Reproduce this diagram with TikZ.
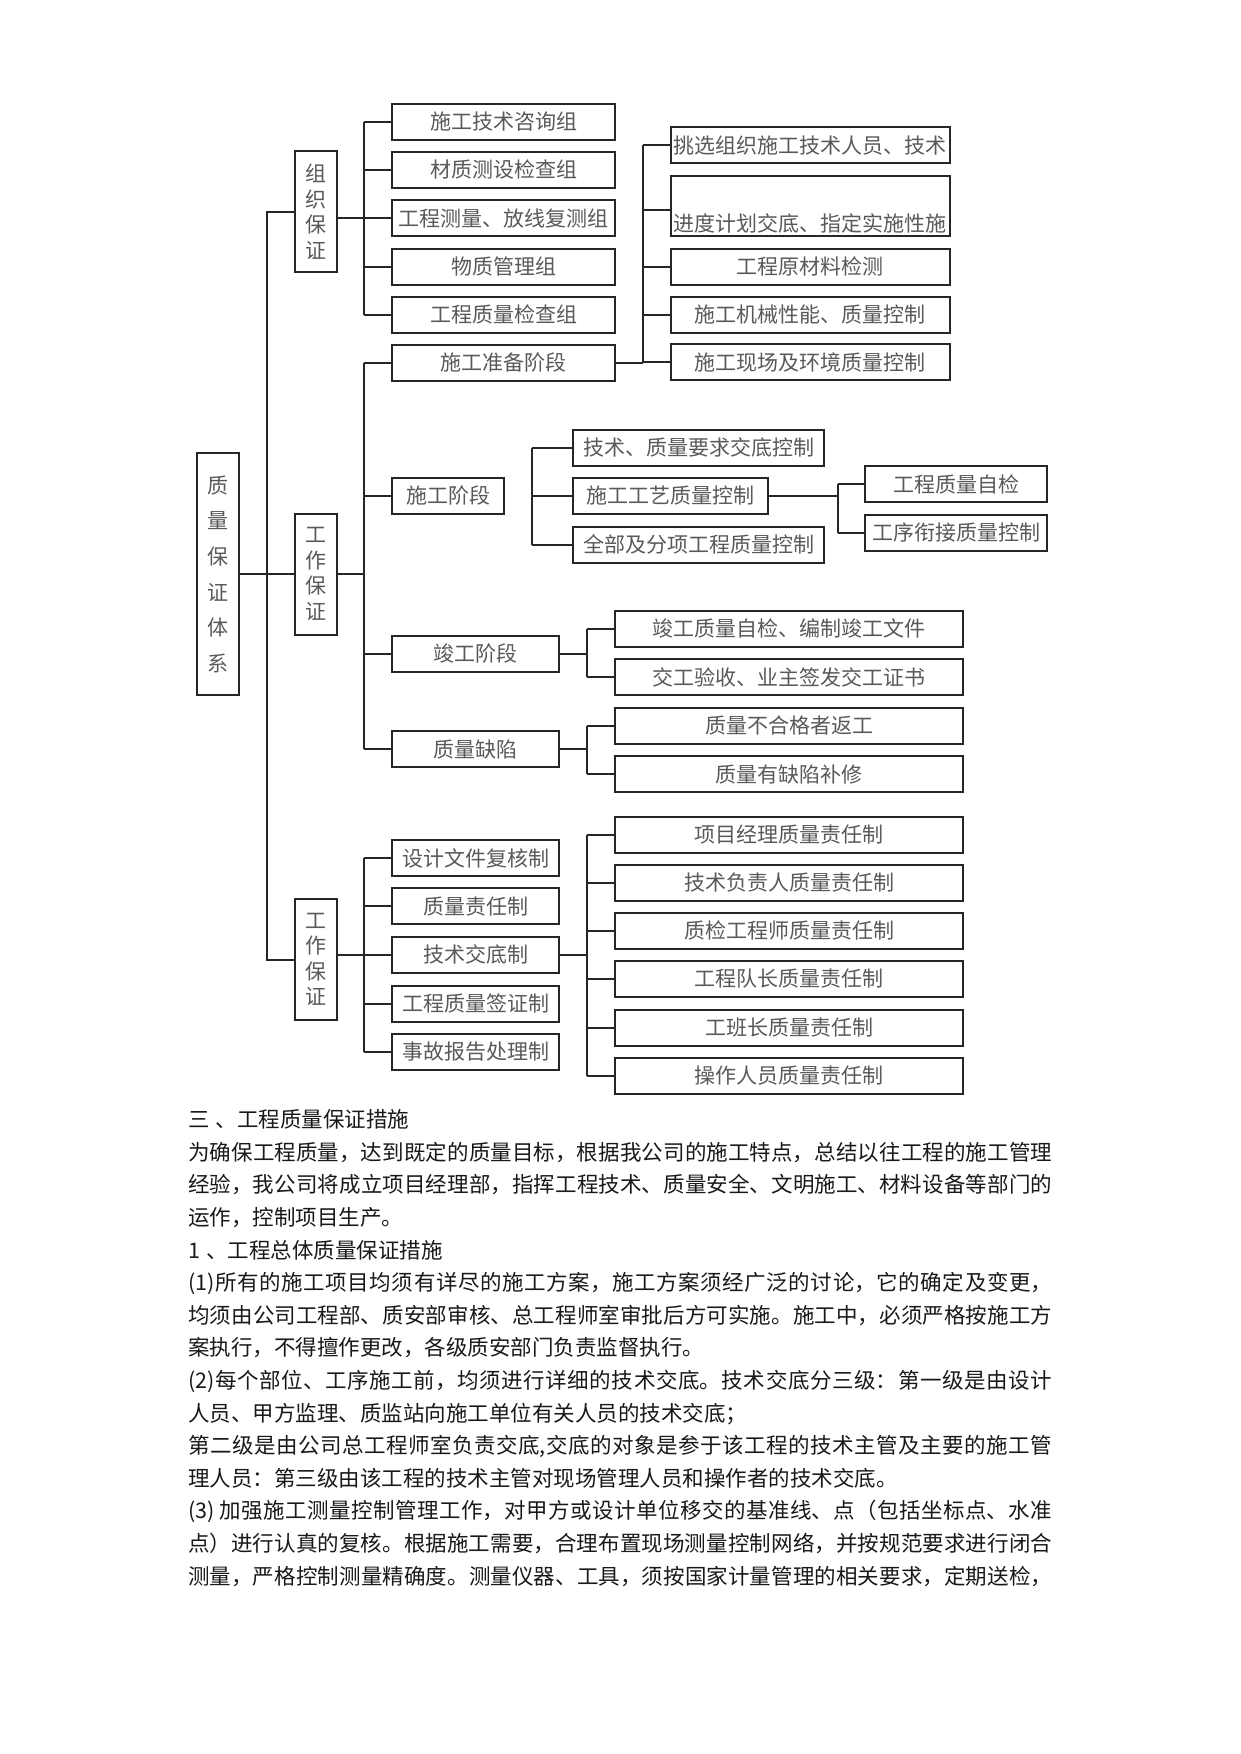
\documentclass[tikz,border=0pt]{standalone}
\usepackage{fontspec}
\newfontfamily\cjk{Noto Sans CJK SC}
\XeTeXlinebreaklocale "zh"
\XeTeXlinebreakskip=0pt plus 3pt
\tikzset{
  ln/.style={draw=black!85, line width=2pt},
  bx/.style={ln, inner sep=0pt, minimum height=36pt, text=black!65, font=\cjk\fontsize{21pt}{21pt}\selectfont},
  vbx/.style={bx, minimum width=41.7pt, minimum height=121pt, align=center, font=\cjk\fontsize{21pt}{25.5pt}\selectfont},
  colA/.style={bx, minimum width=223pt},
  colB/.style={bx, minimum width=279.3pt},
  colC/.style={bx, minimum width=167pt},
  colD/.style={bx, minimum width=251.7pt},
  colE/.style={bx, minimum width=181.5pt},
  colF/.style={bx, minimum width=348.3pt},
  tx/.style={anchor=west, inner sep=0pt, text height=0.85em, text depth=0.12em, text=black!90, font=\cjk\fontsize{21.5pt}{21.5pt}\selectfont}
}
\newcommand{\fl}[1]{\parbox[b]{864pt}{\parfillskip=0pt\relax #1}}
\begin{document}
\begin{tikzpicture}[x=1pt,y=-1pt]
\fill[white] (0,0) rectangle (1241,1754);
\useasboundingbox (0,0) rectangle (1241,1754);

% bus x positions
\coordinate (sp) at (267.3,0);
\coordinate (bA) at (364.3,0);
\coordinate (bB) at (643.3,0);
\coordinate (bD) at (531.5,0);
\coordinate (bE) at (837.5,0);
\coordinate (bF) at (587.2,0);

% root and second level
\node[bx, minimum width=42pt, minimum height=241.7pt, align=center, font=\cjk\fontsize{21pt}{35.7pt}\selectfont] (root) at (218.3,574.2) {质\\量\\保\\证\\体\\系};
\node[vbx] (v1) at (315.9,211.7) {组\\织\\保\\证};
\node[vbx] (v2) at (315.9,574) {工\\作\\保\\证};
\node[vbx] (v3) at (315.9,959.5) {工\\作\\保\\证};

% column A
\node[colA] (a1) at (503.8,122) {施工技术咨询组};
\node[colA] (a2) at (503.8,169.9) {材质测设检查组};
\node[colA] (a3) at (503.8,218.4) {工程测量、放线复测组};
\node[colA] (a4) at (503.8,266.7) {物质管理组};
\node[colA] (a5) at (503.8,314.5) {工程质量检查组};
\node[colA] (a6) at (503.8,362.9) {施工准备阶段};

% column B
\node[colB] (b1) at (810.35,145.3) {挑选组织施工技术人员、技术};
\node[colB, minimum height=60pt, label={[bx, draw=none, anchor=center, yshift=14pt]south:进度计划交底、指定实施性施}] (b2) at (810.35,206) {};
\node[colB] (b3) at (810.35,266.7) {工程原材料检测};
\node[colB] (b4) at (810.35,314.5) {施工机械性能、质量控制};
\node[colB] (b5) at (810.35,362.2) {施工现场及环境质量控制};

% stages
\node[bx, minimum width=111.7pt] (c1) at (448.2,495.9) {施工阶段};
\node[colC] (c2) at (475.8,653.7) {竣工阶段};
\node[colC] (c3) at (475.8,749.2) {质量缺陷};

% construction stage children
\node[colD] (d1) at (698.55,447.9) {技术、质量要求交底控制};
\node[bx, minimum width=195.6pt] (d2) at (670.5,496) {施工工艺质量控制};
\node[colD] (d3) at (698.55,544.7) {全部及分项工程质量控制};
\node[colE] (e1) at (956.15,484.2) {工程质量自检};
\node[colE] (e2) at (956.15,532.9) {工序衔接质量控制};

% completion / defects children
\node[colF] (f1) at (789.15,628.9) {竣工质量自检、编制竣工文件};
\node[colF] (f2) at (789.15,677) {交工验收、业主签发交工证书};
\node[colF] (f3) at (789.15,725.7) {质量不合格者返工};
\node[colF] (f4) at (789.15,774.2) {质量有缺陷补修};

% bottom group
\node[colC] (h1) at (475.8,858.2) {设计文件复核制};
\node[colC] (h2) at (475.8,906.2) {质量责任制};
\node[colC] (h3) at (475.8,954.7) {技术交底制};
\node[colC] (h4) at (475.8,1003.7) {工程质量签证制};
\node[colC] (h5) at (475.8,1051.7) {事故报告处理制};

\node[colF] (g1) at (789.15,834.8) {项目经理质量责任制};
\node[colF] (g2) at (789.15,882.5) {技术负责人质量责任制};
\node[colF] (g3) at (789.15,930.5) {质检工程师质量责任制};
\node[colF] (g4) at (789.15,978.9) {工程队长质量责任制};
\node[colF] (g5) at (789.15,1027.9) {工班长质量责任制};
\node[colF] (g6) at (789.15,1076) {操作人员质量责任制};

% ---- connectors ----
% spine
\draw[ln] (v1.west) -- (v1.west -| sp) -- (v3.west -| sp) -- (v3.west);
\draw[ln] (root.east) -- (root.east -| v2.west);

% group A
\draw[ln] (a1.west -| bA) -- (a5.west -| bA);
\foreach \n in {a1,a2,a3,a4,a5} \draw[ln] (\n.west -| bA) -- (\n.west);
\draw[ln] (v1.east |- a3.west) -- (a3.west);

% stages bus
\draw[ln] (a6.west -| bA) -- (c3.west -| bA);
\foreach \n in {a6,c1,c2,c3} \draw[ln] (\n.west -| bA) -- (\n.west);
\draw[ln] (v2.east) -- (v2.east -| bA);

% preparation stage children
\draw[ln] (a6.east) -- (a6.east -| bB);
\draw[ln] (b1.west -| bB) -- (b5.west -| bB);
\foreach \n in {b1,b3,b4,b5} \draw[ln] (\n.west -| bB) -- (\n.west);
\draw[ln] ([yshift=-4pt]b2.west -| bB) -- ([yshift=-4pt]b2.west);

% construction stage children (bus not joined to the stage box)
\draw[ln] (d1.west -| bD) -- (d3.west -| bD);
\foreach \n in {d1,d2,d3} \draw[ln] (\n.west -| bD) -- (\n.west);
\draw[ln] (d2.east) -- (d2.east -| bE);
\draw[ln] (e1.west -| bE) -- (e2.west -| bE);
\foreach \n in {e1,e2} \draw[ln] (\n.west -| bE) -- (\n.west);

% completion and defects
\draw[ln] (c2.east) -- (c2.east -| bF);
\draw[ln] (f1.west -| bF) -- (f2.west -| bF);
\foreach \n in {f1,f2} \draw[ln] (\n.west -| bF) -- (\n.west);
\draw[ln] (c3.east) -- (c3.east -| bF);
\draw[ln] (f3.west -| bF) -- (f4.west -| bF);
\foreach \n in {f3,f4} \draw[ln] (\n.west -| bF) -- (\n.west);

% bottom group
\draw[ln] (h1.west -| bA) -- (h5.west -| bA);
\foreach \n in {h1,h2,h3,h4,h5} \draw[ln] (\n.west -| bA) -- (\n.west);
\draw[ln] (v3.east |- h3.west) -- (h3.west);
\draw[ln] (h3.east) -- (h3.east -| bF);
\draw[ln] (g1.west -| bF) -- (g6.west -| bF);
\foreach \n in {g1,g2,g3,g4,g5,g6} \draw[ln] (\n.west -| bF) -- (\n.west);

% ---- body text ----
\node[tx] (t0) at (188,1124) {三\hspace{6pt}、工程质量保证措施};
\node[tx] (t1) at (188,1156.6) {\fl{为确保工程质量，达到既定的质量目标，根据我公司的施工特点，总结以往工程的施工管理}};
\node[tx] (t2) at (188,1189.2) {\fl{经验，我公司将成立项目经理部，指挥工程技术、质量安全、文明施工、材料设备等部门的}};
\node[tx] (t3) at (188,1221.8) {运作，控制项目生产。};
\node[tx] (t4) at (188,1254.4) {1\hspace{6pt}、工程总体质量保证措施};
\node[tx] (t5) at (188,1287) {\fl{(1)所有的施工项目均须有详尽的施工方案，施工方案须经广泛的讨论，它的确定及变更，}};
\node[tx] (t6) at (188,1319.6) {\fl{均须由公司工程部、质安部审核、总工程师室审批后方可实施。施工中，必须严格按施工方}};
\node[tx] (t7) at (188,1352.2) {案执行，不得擅作更改，各级质安部门负责监督执行。};
\node[tx] (t8) at (188,1384.8) {\fl{(2)每个部位、工序施工前，均须进行详细的技术交底。技术交底分三级：第一级是由设计}};
\node[tx] (t9) at (188,1417.4) {人员、甲方监理、质监站向施工单位有关人员的技术交底；};
\node[tx] (t10) at (188,1450) {\fl{第二级是由公司总工程师室负责交底,交底的对象是参于该工程的技术主管及主要的施工管}};
\node[tx] (t11) at (188,1482.6) {理人员：第三级由该工程的技术主管对现场管理人员和操作者的技术交底。};
\node[tx] (t12) at (188,1515.2) {\fl{(3)\hspace{5pt}加强施工测量控制管理工作，对甲方或设计单位移交的基准线、点（包括坐标点、水准}};
\node[tx] (t13) at (188,1547.8) {\fl{点）进行认真的复核。根据施工需要，合理布置现场测量控制网络，并按规范要求进行闭合}};
\node[tx] (t14) at (188,1580.4) {\fl{测量，严格控制测量精确度。测量仪器、工具，须按国家计量管理的相关要求，定期送检，}};
\end{tikzpicture}
\end{document}
